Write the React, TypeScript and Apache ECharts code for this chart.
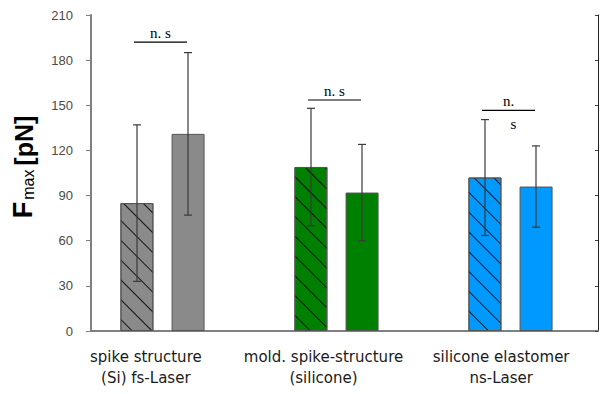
import React, { useEffect, useRef } from "react";
import * as echarts from "echarts";

const categories = ["spike structure\n(Si) fs-Laser", "mold. spike-structure\n(silicone)", "silicone elastomer\nns-Laser"];
const hatchedMeans = [85, 109, 102];
const hatchedSD = [52, 39, 38.5];
const solidMeans = [131, 92, 96];
const solidSD = [54, 32, 27];
const groupColors = ["#8a8a8a", "#008000", "#0099ff"];
const sigHeights = [192, 153.5, 146.6];
const sigTop = ["n. s", "n. s", "n."];
const sigBottom = ["", "", "s"];
const yTicks = { min: 0, max: 210, interval: 30 };

export default function App() {
  const ref = useRef<HTMLDivElement>(null);
  useEffect(() => {
    document.body.style.margin = "0";
    const chart = echarts.init(ref.current!, undefined, { renderer: "svg" });
    const gridTop = 15;
    const gridBottom = 63;
    const barW = 33;
    const off = 25.5;
    const decal = {
      symbol: "rect",
      symbolSize: 1,
      dashArrayX: [1, 0],
      dashArrayY: [0.6, 13],
      rotation: Math.PI / 4,
      color: "rgba(0,0,0,0.85)",
    };
    const errData = [
      ...hatchedMeans.map((m, i) => [i, m, hatchedSD[i], -1]),
      ...solidMeans.map((m, i) => [i, m, solidSD[i], 1]),
    ];
    const sigData = sigHeights.map((h, i) => [i, h, sigTop[i], sigBottom[i]]);
    const sans = "Liberation Sans, Arial, sans-serif";
    chart.setOption({
      animation: false,
      grid: [
        { left: 75.5, right: 13.5, top: gridTop, bottom: gridBottom },
        { left: 91, right: 13, top: gridTop, bottom: gridBottom },
        { left: 57, right: 21, top: gridTop, bottom: gridBottom },
      ],
      xAxis: [
        { type: "category", gridIndex: 0, data: categories, show: false },
        {
          type: "category",
          gridIndex: 1,
          data: categories,
          axisLine: { lineStyle: { color: "#808080", width: 2 } },
          axisTick: { show: false },
          axisLabel: { show: false },
        },
        {
          type: "category",
          gridIndex: 2,
          data: categories,
          axisLine: { show: false },
          axisTick: { show: false },
          axisLabel: {
            interval: 0,
            margin: 15,
            color: "#1a1a1a",
            fontSize: 15,
            fontFamily: "DejaVu Sans, sans-serif",
            lineHeight: 21,
          },
        },
      ],
      yAxis: [
        { type: "value", gridIndex: 0, ...yTicks, show: false, splitLine: { show: false } },
        {
          type: "value",
          gridIndex: 1,
          ...yTicks,
          position: "left",
          splitLine: { show: false },
          axisLine: { show: true, lineStyle: { color: "#808080", width: 2 } },
          axisTick: { show: true, length: 5, lineStyle: { color: "#808080" } },
          axisLabel: { color: "#4a4a4a", fontSize: 13, margin: 18, fontFamily: sans },
          name: "{a|F}{b|max}{c|[pN]}",
          nameLocation: "middle",
          nameGap: 55,
          nameTextStyle: {
            color: "#000",
            fontFamily: sans,
            padding: [0, 0, 0, 12],
            rich: {
              a: { fontSize: 27, fontWeight: "bold", color: "#000", verticalAlign: "bottom", lineHeight: 28, fontFamily: sans },
              b: { fontSize: 16, color: "#000", verticalAlign: "bottom", lineHeight: 18, padding: [0, 4, 0, 2], fontFamily: sans },
              c: { fontSize: 25, fontWeight: "bold", color: "#000", verticalAlign: "bottom", lineHeight: 28, fontFamily: sans },
            },
          },
        },
        {
          type: "value",
          gridIndex: 1,
          ...yTicks,
          position: "right",
          splitLine: { show: false },
          axisLine: { show: true, lineStyle: { color: "#222", width: 1 } },
          axisTick: { show: true, inside: true, length: 3, lineStyle: { color: "#444" } },
          axisLabel: { show: false },
        },
        { type: "value", gridIndex: 2, ...yTicks, show: false, splitLine: { show: false } },
      ],
      series: [
        {
          type: "bar",
          xAxisIndex: 0,
          yAxisIndex: 0,
          barWidth: barW,
          barGap: "55%",
          data: hatchedMeans.map((v, i) => ({
            value: v,
            itemStyle: { color: groupColors[i], decal },
          })),
          itemStyle: { borderColor: "#555", borderWidth: 1 },
        },
        {
          type: "bar",
          xAxisIndex: 0,
          yAxisIndex: 0,
          barWidth: barW,
          data: solidMeans.map((v, i) => ({ value: v, itemStyle: { color: groupColors[i] } })),
          itemStyle: { borderColor: "#555", borderWidth: 1 },
        },
        {
          type: "custom",
          xAxisIndex: 0,
          yAxisIndex: 0,
          data: errData,
          renderItem: (params: any, api: any) => {
            const c = api.value(0);
            const m = api.value(1);
            const sd = api.value(2);
            const side = api.value(3);
            const top = api.coord([c, m + sd]);
            const bot = api.coord([c, m - sd]);
            const x = top[0] + side * off;
            const cap = 4;
            const style = { stroke: "#3a3a3a", lineWidth: 1.2 };
            return {
              type: "group",
              children: [
                { type: "line", shape: { x1: x, y1: top[1], x2: x, y2: bot[1] }, style },
                { type: "line", shape: { x1: x - cap, y1: top[1], x2: x + cap, y2: top[1] }, style },
                { type: "line", shape: { x1: x - cap, y1: bot[1], x2: x + cap, y2: bot[1] }, style },
              ],
            };
          },
          z: 5,
        },
        {
          type: "custom",
          xAxisIndex: 0,
          yAxisIndex: 0,
          data: sigData,
          renderItem: (params: any, api: any) => {
            const idx = params.dataIndex;
            const p = api.coord([api.value(0), api.value(1)]);
            const x1 = p[0] - off - 3;
            const x2 = p[0] + off - 1;
            const font = "15px 'Liberation Serif', 'DejaVu Serif', serif";
            const children: any[] = [
              { type: "line", shape: { x1, y1: p[1], x2, y2: p[1] }, style: { stroke: "#000", lineWidth: 1.2 } },
              {
                type: "text",
                x: p[0] - 2,
                y: p[1] - 2,
                style: { text: sigTop[idx], font, fill: "#000", textAlign: "center", textVerticalAlign: "bottom" },
              },
            ];
            if (sigBottom[idx]) {
              children.push({
                type: "text",
                x: p[0] + 3,
                y: p[1] + 14,
                style: { text: sigBottom[idx], font, fill: "#000", textAlign: "center", textVerticalAlign: "middle" },
              });
            }
            return { type: "group", children };
          },
          z: 6,
        },
      ],
    });
    return () => chart.dispose();
  }, []);
  return <div ref={ref} style={{ width: 611, height: 394 }} />;
}
